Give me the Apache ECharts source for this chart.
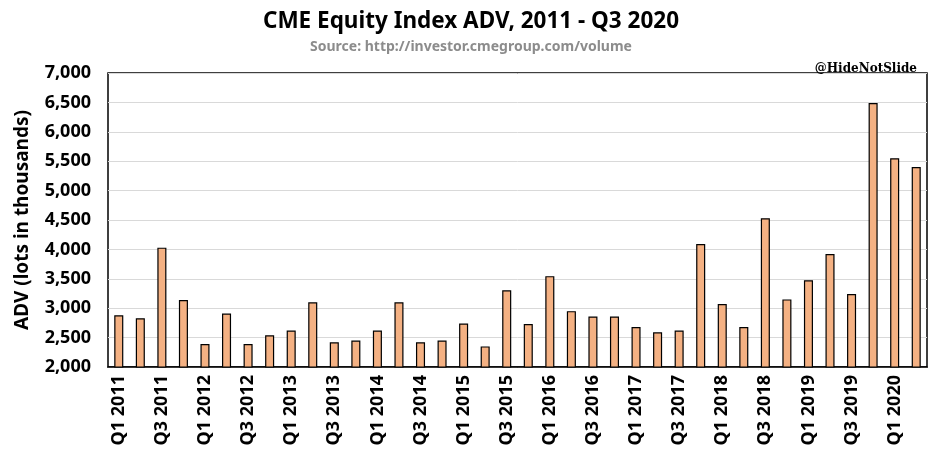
<!DOCTYPE html>
<html>
<head>
<meta charset="utf-8">
<script src="https://cdn.jsdelivr.net/npm/echarts@6/dist/echarts.min.js"></script>
<style>html,body{margin:0;padding:0;background:#fff}#c{width:942px;height:463px}</style>
</head>
<body>
<div id="c"></div>
<script>
const categories = [
  'Q1 2011','Q2 2011','Q3 2011','Q4 2011',
  'Q1 2012','Q2 2012','Q3 2012','Q4 2012',
  'Q1 2013','Q2 2013','Q3 2013','Q4 2013',
  'Q1 2014','Q2 2014','Q3 2014','Q4 2014',
  'Q1 2015','Q2 2015','Q3 2015','Q4 2015',
  'Q1 2016','Q2 2016','Q3 2016','Q4 2016',
  'Q1 2017','Q2 2017','Q3 2017','Q4 2017',
  'Q1 2018','Q2 2018','Q3 2018','Q4 2018',
  'Q1 2019','Q2 2019','Q3 2019','Q4 2019',
  'Q1 2020','Q2 2020'
];
const advValues = [
  2880, 2830, 4030, 3140,
  2390, 2910, 2390, 2540,
  2620, 3100, 2420, 2450,
  2620, 3100, 2420, 2450,
  2740, 2350, 3305, 2730,
  3545, 2950, 2860, 2860,
  2680, 2590, 2620, 4090,
  3070, 2680, 4530, 3150,
  3475, 3920, 3240, 6490,
  5550, 5400
];
const yMin = 2000, yMax = 7000, yStep = 500;

const chart = echarts.init(document.getElementById('c'), null, {renderer: 'canvas'});
const font = "'Noto Sans', sans-serif";
chart.setOption({
  animation: false,
  backgroundColor: '#ffffff',
  title: [
    {text: 'CME Equity Index ADV, 2011 - Q3 2020', left: 'center', top: 5,
     textStyle: {fontFamily: font, fontWeight: 'bold', fontSize: 22.5, color: '#000'}},
    {text: 'Source: http://investor.cmegroup.com/volume', left: 'center', top: 35,
     textStyle: {fontFamily: font, fontWeight: 'bold', fontSize: 14, color: '#8c8c8c'}},
    {text: '@HideNotSlide', right: 20, top: 58,
     textStyle: {fontFamily: "'DejaVu Serif', serif", fontWeight: 'bold', fontSize: 12, color: '#000'}}
  ],
  grid: {left: 108, right: 15, top: 73, bottom: 96, show: true, borderColor: '#000', borderWidth: 1.5},
  xAxis: {
    type: 'category', data: categories,
    axisLine: {show: true, lineStyle: {color: '#000', width: 1.5}},
    axisTick: {show: false},
    axisLabel: {interval: 1, rotate: 90, fontFamily: font, fontWeight: 'bold', fontSize: 18, color: '#000', margin: 8}
  },
  yAxis: {
    type: 'value', min: yMin, max: yMax, interval: yStep,
    name: 'ADV (lots in thousands)', nameLocation: 'middle', nameGap: 76, nameRotate: 90,
    nameTextStyle: {fontFamily: font, fontWeight: 'bold', fontSize: 19, color: '#000'},
    axisLine: {show: false}, axisTick: {show: false},
    axisLabel: {fontFamily: font, fontWeight: 'bold', fontSize: 18, color: '#000', margin: 17,
      formatter: v => v.toLocaleString('en-US')},
    splitLine: {lineStyle: {color: '#d9d9d9', width: 1}}
  },
  series: [{
    type: 'bar', data: advValues, barWidth: '42%',
    itemStyle: {color: '#F4B183', borderColor: '#000', borderWidth: 1.2}
  }]
});
</script>
</body>
</html>
